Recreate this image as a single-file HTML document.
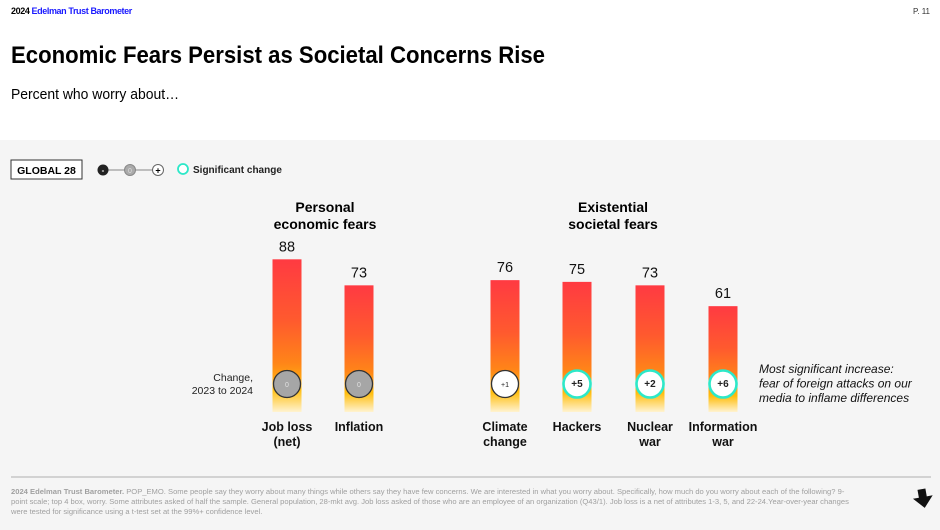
<!DOCTYPE html>
<html><head><meta charset="utf-8"><style>
body{margin:0;width:940px;height:530px;overflow:hidden;background:#fff;font-family:"Liberation Sans",Arial,sans-serif}
svg{display:block}
</style></head><body>
<svg id="chart" width="940" height="530" viewBox="0 0 940 530" font-family="Liberation Sans, Arial, sans-serif">
<defs>
<linearGradient id="barGrad" x1="0" y1="0" x2="0" y2="1">
<stop offset="0" stop-color="#ff3a42"/>
<stop offset="0.4" stop-color="#ff5a2e"/>
<stop offset="0.68" stop-color="#ff8518"/>
<stop offset="0.85" stop-color="#ffbd0c"/>
<stop offset="1" stop-color="#fff3d0"/>
</linearGradient>
</defs>
<rect x="0" y="0" width="940" height="140" fill="#ffffff"/>
<rect x="0" y="140" width="940" height="390" fill="#f5f5f5"/>
<text x="11" y="14" font-size="9" font-weight="bold" letter-spacing="-0.4"><tspan fill="#000">2024 </tspan><tspan fill="#1a1aff">Edelman Trust Barometer</tspan></text>
<text x="930" y="14" font-size="8" text-anchor="end" fill="#333">P. 11</text>
<text x="11" y="63" font-size="24" font-weight="bold" textLength="534" lengthAdjust="spacingAndGlyphs">Economic Fears Persist as Societal Concerns Rise</text>
<text x="11" y="99" font-size="15" textLength="168" lengthAdjust="spacingAndGlyphs">Percent who worry about…</text>

<g>
<rect x="11" y="160" width="71" height="19" fill="#fff" stroke="#333" stroke-width="1"/>
<text x="46.5" y="174" font-size="10.5" font-weight="bold" text-anchor="middle">GLOBAL 28</text>
<line x1="103" y1="170" x2="158" y2="170" stroke="#888" stroke-width="1"/>
<circle cx="103" cy="170" r="5.5" fill="#222"/>
<text x="103" y="173" font-size="8" fill="#fff" font-weight="bold" text-anchor="middle">-</text>
<circle cx="130" cy="170" r="5.5" fill="#aaa" stroke="#888"/>
<text x="130" y="173" font-size="7" fill="#ddd" text-anchor="middle">0</text>
<circle cx="158" cy="170" r="5.5" fill="#fff" stroke="#666"/>
<text x="158" y="173.5" font-size="9" font-weight="bold" text-anchor="middle">+</text>
<circle cx="183" cy="169" r="5" fill="#fff" stroke="#2de8c8" stroke-width="1.8"/>
<text x="193" y="173" font-size="10" font-weight="bold" fill="#222">Significant change</text>
</g>

<text x="325" y="212" font-size="14" font-weight="bold" text-anchor="middle"><tspan x="325">Personal</tspan><tspan x="325" dy="17">economic fears</tspan></text>
<text x="613" y="212" font-size="14" font-weight="bold" text-anchor="middle"><tspan x="613">Existential</tspan><tspan x="613" dy="17">societal fears</tspan></text>

<text x="253" y="381" font-size="10.5" text-anchor="end" fill="#222"><tspan x="253">Change,</tspan><tspan x="253" dy="13">2023 to 2024</tspan></text>

<text x="759" y="373" font-size="12" font-style="italic" fill="#111"><tspan x="759">Most significant increase:</tspan><tspan x="759" dy="14.5">fear of foreign attacks on our</tspan><tspan x="759" dy="14.5">media to inflame differences</tspan></text>

<g id="bars"></g>

<line x1="11" y1="477" x2="931" y2="477" stroke="#999" stroke-width="0.8"/>
<text font-size="7.6" fill="#a0a0a0">
<tspan x="11" y="494"><tspan font-weight="bold">2024 Edelman Trust Barometer.</tspan> POP_EMO. Some people say they worry about many things while others say they have few concerns. We are interested in what you worry about. Specifically, how much do you worry about each of the following? 9-</tspan>
<tspan x="11" y="504">point scale; top 4 box, worry. Some attributes asked of half the sample. General population, 28-mkt avg. Job loss asked of those who are an employee of an organization (Q43/1). Job loss is a net of attributes 1-3, 5, and 22-24.Year-over-year changes</tspan>
<tspan x="11" y="514">were tested for significance using a t-test set at the 99%+ confidence level.</tspan>
</text>
<path d="M919 489 h8 v8 h6 l-10 11 l-10 -11 h6 z" transform="rotate(-10 923 498)" fill="#111"/>
</svg>
<script>
const categories = [["Job loss","(net)"],["Inflation"],["Climate","change"],["Hackers"],["Nuclear","war"],["Information","war"]];
const values = [88, 73, 76, 75, 73, 61];
const changes = ["0", "0", "+1", "+5", "+2", "+6"];
const significant = [false, false, false, true, true, true];
const centers = [287, 359, 505, 577, 650, 723];
const baseY = 412, pxPer = 1.735, barW = 29;
const yScale = v => baseY - v * pxPer;
const NS = "http://www.w3.org/2000/svg";
const g = document.getElementById("bars");
function mk(tag, attrs){const e=document.createElementNS(NS,tag);for(const k in attrs)e.setAttribute(k,attrs[k]);return e;}
values.forEach((v,i)=>{
  const cx = centers[i], top = yScale(v);
  const r = mk("rect",{x:cx-barW/2,y:top,width:barW,height:baseY-top,fill:"url(#barGrad)"});
  
  
  g.appendChild(r);
  const t = mk("text",{x:cx,y:top-8,"font-size":14.5,"text-anchor":"middle",fill:"#111"});
  t.textContent = v;
  
  
  g.appendChild(t);
  const zero = changes[i]==="0";
  const c = mk("circle",{cx:cx,cy:384,r:13.5,fill:zero?"#a6a6a6":"#fff",stroke:significant[i]?"#2de8c8":"#333","stroke-width":significant[i]?2.6:1.3});
  
  
  g.appendChild(c);
  const ct = mk("text",{x:cx,y:387,"font-size":significant[i]?10:7,"font-weight":significant[i]?"bold":"normal","text-anchor":"middle",fill:zero?"#e0e0e0":"#222"});
  ct.textContent = changes[i];
  
  
  g.appendChild(ct);
  const lab = mk("text",{x:cx,y:431,"font-size":12.5,"font-weight":"bold","text-anchor":"middle",fill:"#111"});
  categories[i].forEach((s,j)=>{const ts=mk("tspan",{x:cx,dy:j?15:0});ts.textContent=s;lab.appendChild(ts);});
  
  
  g.appendChild(lab);
});
</script>
</body></html>
